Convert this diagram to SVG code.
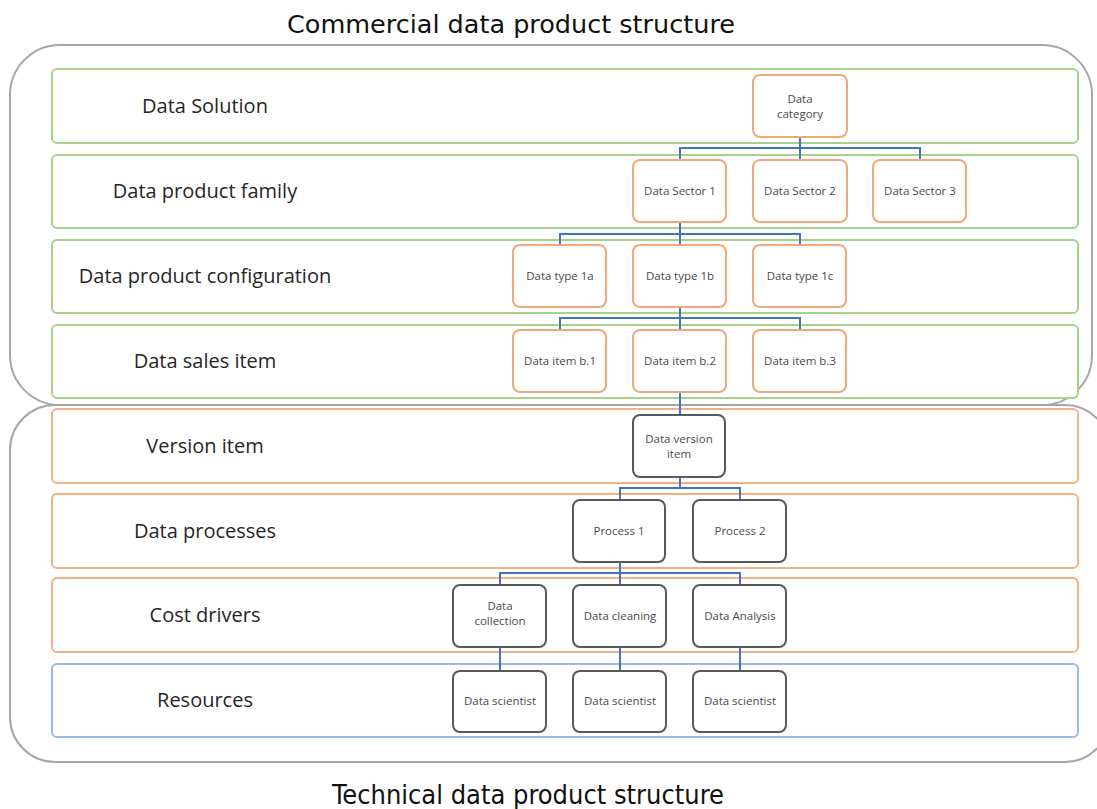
<svg xmlns="http://www.w3.org/2000/svg" width="1097" height="809" viewBox="0 0 1097 809">
<style>
.bg{fill:#fff}
.outer{fill:none;stroke:#a6a6a6;stroke-width:2}
.lg{fill:#fff;stroke:#a9d18e;stroke-width:2}
.lo{fill:#fff;stroke:#f4b183;stroke-width:2}
.lb{fill:#fff;stroke:#9db9e8;stroke-width:2}
.no{fill:#fff;stroke:#f0a878;stroke-width:2}
.ng{fill:#fff;stroke:#595959;stroke-width:2}
.lab{font-family:"Open Sans","Liberation Sans",sans-serif;font-size:20px;fill:#262626;text-anchor:middle}
.nt{font-family:"Open Sans","Liberation Sans",sans-serif;font-size:11.5px;fill:#4a4a4a;text-anchor:middle}
.title{font-family:"DejaVu Sans Condensed","DejaVu Sans",sans-serif;fill:#111;text-anchor:middle}
.conn{fill:none;stroke:#4472c4;stroke-width:2}
</style>
<rect class="bg" x="0" y="0" width="1097" height="809"/>
<text class="title" x="511" y="33" font-size="24" textLength="448" lengthAdjust="spacingAndGlyphs">Commercial data product structure</text>
<text class="title" x="528" y="804" font-size="26" textLength="392" lengthAdjust="spacingAndGlyphs">Technical data product structure</text>
<rect class="outer" x="10" y="45" width="1082" height="360" rx="50"/>
<rect class="outer" x="10" y="405" width="1100" height="357" rx="45"/>
<g id="lanes">
<g id="lane-solution"><rect class="lg" x="52" y="69" width="1026" height="74" rx="5"/><text class="lab" x="205" y="113">Data Solution</text></g>
<g id="lane-family"><rect class="lg" x="52" y="155" width="1026" height="73" rx="5"/><text class="lab" x="205" y="198">Data product family</text></g>
<g id="lane-config"><rect class="lg" x="52" y="240" width="1026" height="73" rx="5"/><text class="lab" x="205" y="283">Data product configuration</text></g>
<g id="lane-sales"><rect class="lg" x="52" y="325" width="1026" height="73" rx="5"/><text class="lab" x="205" y="368">Data sales item</text></g>
<g id="lane-version"><rect class="lo" x="52" y="409" width="1026" height="74" rx="5"/><text class="lab" x="205" y="453">Version item</text></g>
<g id="lane-processes"><rect class="lo" x="52" y="494" width="1026" height="74" rx="5"/><text class="lab" x="205" y="538">Data processes</text></g>
<g id="lane-cost"><rect class="lo" x="52" y="578" width="1026" height="74" rx="5"/><text class="lab" x="205" y="622">Cost drivers</text></g>
<g id="lane-resources"><rect class="lb" x="52" y="664" width="1026" height="73" rx="5"/><text class="lab" x="205" y="707">Resources</text></g>
</g>
<g id="connectors">
<path class="conn" d="M800 137V148M680 160V148H920V160M800 148V160"/>
<path class="conn" d="M680 222V234M560 245V234H800V245M680 234V245"/>
<path class="conn" d="M680 307V318M560 330V318H800V330M680 318V330"/>
<path class="conn" d="M680 392V415"/>
<path class="conn" d="M680 477V488M620 500V488H740V500"/>
<path class="conn" d="M620 562V573M500 585V573H740V585M620 573V585"/>
<path class="conn" d="M500 647V671M620 647V671M740 647V671"/>
</g>
<g id="n-category"><rect class="no" x="753" y="75" width="94" height="62" rx="7"/><text class="nt" x="800" y="103">Data</text><text class="nt" x="800" y="118">category</text></g>
<g id="n-sector1"><rect class="no" x="633" y="160" width="93" height="62" rx="7"/><text class="nt" x="680" y="195">Data Sector 1</text></g>
<g id="n-sector2"><rect class="no" x="753" y="160" width="94" height="62" rx="7"/><text class="nt" x="800" y="195">Data Sector 2</text></g>
<g id="n-sector3"><rect class="no" x="873" y="160" width="93" height="62" rx="7"/><text class="nt" x="920" y="195">Data Sector 3</text></g>
<g id="n-type1a"><rect class="no" x="513" y="245" width="93" height="62" rx="7"/><text class="nt" x="560" y="280">Data type 1a</text></g>
<g id="n-type1b"><rect class="no" x="633" y="245" width="93" height="62" rx="7"/><text class="nt" x="680" y="280">Data type 1b</text></g>
<g id="n-type1c"><rect class="no" x="753" y="245" width="93" height="62" rx="7"/><text class="nt" x="800" y="280">Data type 1c</text></g>
<g id="n-itemb1"><rect class="no" x="513" y="330" width="93" height="62" rx="7"/><text class="nt" x="560" y="365">Data item b.1</text></g>
<g id="n-itemb2"><rect class="no" x="633" y="330" width="93" height="62" rx="7"/><text class="nt" x="680" y="365">Data item b.2</text></g>
<g id="n-itemb3"><rect class="no" x="753" y="330" width="93" height="62" rx="7"/><text class="nt" x="800" y="365">Data item b.3</text></g>
<g id="n-version"><rect class="ng" x="633" y="415" width="92" height="62" rx="7"/><text class="nt" x="679" y="443">Data version</text><text class="nt" x="679" y="458">item</text></g>
<g id="n-process1"><rect class="ng" x="573" y="500" width="92" height="62" rx="7"/><text class="nt" x="619" y="535">Process 1</text></g>
<g id="n-process2"><rect class="ng" x="693" y="500" width="93" height="62" rx="7"/><text class="nt" x="740" y="535">Process 2</text></g>
<g id="n-collection"><rect class="ng" x="453" y="585" width="93" height="62" rx="7"/><text class="nt" x="500" y="610">Data</text><text class="nt" x="500" y="625">collection</text></g>
<g id="n-cleaning"><rect class="ng" x="573" y="585" width="93" height="62" rx="7"/><text class="nt" x="620" y="620">Data cleaning</text></g>
<g id="n-analysis"><rect class="ng" x="693" y="585" width="93" height="62" rx="7"/><text class="nt" x="740" y="620">Data Analysis</text></g>
<g id="n-scientist1"><rect class="ng" x="453" y="671" width="93" height="61" rx="7"/><text class="nt" x="500" y="705">Data scientist</text></g>
<g id="n-scientist2"><rect class="ng" x="573" y="671" width="93" height="61" rx="7"/><text class="nt" x="620" y="705">Data scientist</text></g>
<g id="n-scientist3"><rect class="ng" x="693" y="671" width="93" height="61" rx="7"/><text class="nt" x="740" y="705">Data scientist</text></g>
</svg>
